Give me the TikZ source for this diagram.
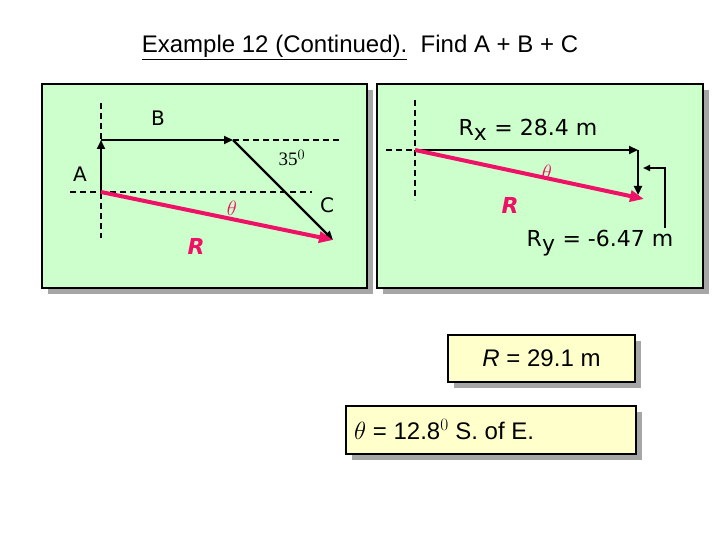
\documentclass[tikz,border=0pt]{standalone}
\usepackage{fontspec}
\setmainfont{Liberation Sans}
\newfontfamily\dv{DejaVu Sans}
\newfontfamily\tms{Liberation Serif}
\usetikzlibrary{arrows.meta}
\definecolor{pgreen}{HTML}{CCFFCC}
\definecolor{pcream}{HTML}{FFFFCC}
\definecolor{pmag}{HTML}{EE1166}
\tikzset{
 panel/.style={draw=black,line width=2.5pt},
 shadowbox/.style={fill=gray!70,draw=none},
 dashline/.style={line width=1.6pt,dash pattern=on 6pt off 4pt},
 vec/.style={line width=2.2pt,-{Triangle[length=9pt,width=8pt]}},
 res/.style={pmag,line width=4pt,-{Triangle[length=14pt,width=11pt]}},
 lbl/.style={font=\dv\fontsize{20}{22}\selectfont,inner sep=0pt},
 rlbl/.style={font=\dv\bfseries\itshape\fontsize{22}{24}\selectfont,text=pmag,inner sep=0pt},
 th/.style={font=\tms\fontsize{20}{22}\selectfont,text=pmag,inner sep=0pt}
}
\begin{document}
\begin{tikzpicture}[x=1pt,y=-1pt]
\useasboundingbox (0,0) rectangle (720,540);
\node[font=\fontsize{24}{28}\selectfont,anchor=base] (title) at (360,53) {\underline{Example 12 (Continued).}\ \ Find A + B + C};
% left panel
\fill[shadowbox] (48,90) rectangle (373,294);
\draw[panel,fill=pgreen] (42,84) rectangle (367,288);
% right panel
\fill[shadowbox] (383,90) rectangle (709,294);
\draw[panel,fill=pgreen] (377,84) rectangle (703,288);
% left geometry
\coordinate (o) at (101,192);
\coordinate (a) at (101,140);
\coordinate (b) at (233,140);
\coordinate (c) at (333,240);
\coordinate (v1) at (101,103); \coordinate (v2) at (101,238);
\coordinate (h1) at (70,192); \coordinate (h2) at (312,192);
\coordinate (h3) at (342,140);
\draw[dashline] (v1) -- (v2);
\draw[dashline] (h1) -- (h2);
\draw[dashline] (b) -- (h3);
\draw[vec] (o) -- (a);
\draw[vec] (a) -- (b);
\draw[vec] (b) -- (c);
\draw[res] (o) -- (c);
\node[lbl] (lB) at (158,118) {B};
\node[lbl] (lA) at (80,174) {A};
\node[font=\tms\fontsize{19}{21}\selectfont,inner sep=0pt] (l35) at (292,158) {35$^{0}$};
\node[lbl] (lC) at (327,205) {C};
\node[th] (lth) at (232,208) {$\theta$};
\node[rlbl] (lR) at (196,246) {R};
% right geometry
\coordinate (o2) at (415,150);
\coordinate (rx) at (638,150);
\coordinate (ry) at (638,195);
\coordinate (re) at (644,199);
\coordinate (w1) at (415,100); \coordinate (w2) at (415,200);
\coordinate (g1) at (386,150);
\draw[dashline] (w1) -- (w2);
\draw[dashline] (g1) -- (o2);
\draw[vec] (o2) -- (rx);
\draw[vec] (rx) -- (ry);
\draw[res] (o2) -- (re);
\coordinate (k1) at (665,228); \coordinate (k2) at (665,168); \coordinate (k3) at (643,168);
\draw[line width=1.6pt,-{Triangle[length=7pt,width=6pt]}] (k1) -- (k2) -- (k3);
\node[font=\dv\fontsize{22}{24}\selectfont,inner sep=0pt] (lrx) at (528,130) {R$_{\mbox{\dv x}}$ = 28.4 m};
\node[th] (rth) at (547,172) {$\theta$};
\node[rlbl] (rR) at (510,205) {R};
\node[font=\dv\fontsize{22}{24}\selectfont,inner sep=0pt] (lry) at (600,243) {R$_{\mbox{\dv y}}$ = -6.47 m};
% result boxes
\fill[shadowbox] (454,341) rectangle (641,388);
\draw[panel,fill=pcream] (448,335) rectangle (635,382);
\node[font=\fontsize{24}{26}\selectfont,inner sep=0pt] (bR) at (541.5,358) {\textit{R} = 29.1 m};
\fill[shadowbox] (352,412) rectangle (642,460);
\draw[panel,fill=pcream] (346,406) rectangle (636,454);
\node[font=\fontsize{24}{26}\selectfont,inner sep=0pt,anchor=west] (bT) at (354,430) {$\theta$ = 12.8$^{0}$ S. of E.};
\end{tikzpicture}
\end{document}
